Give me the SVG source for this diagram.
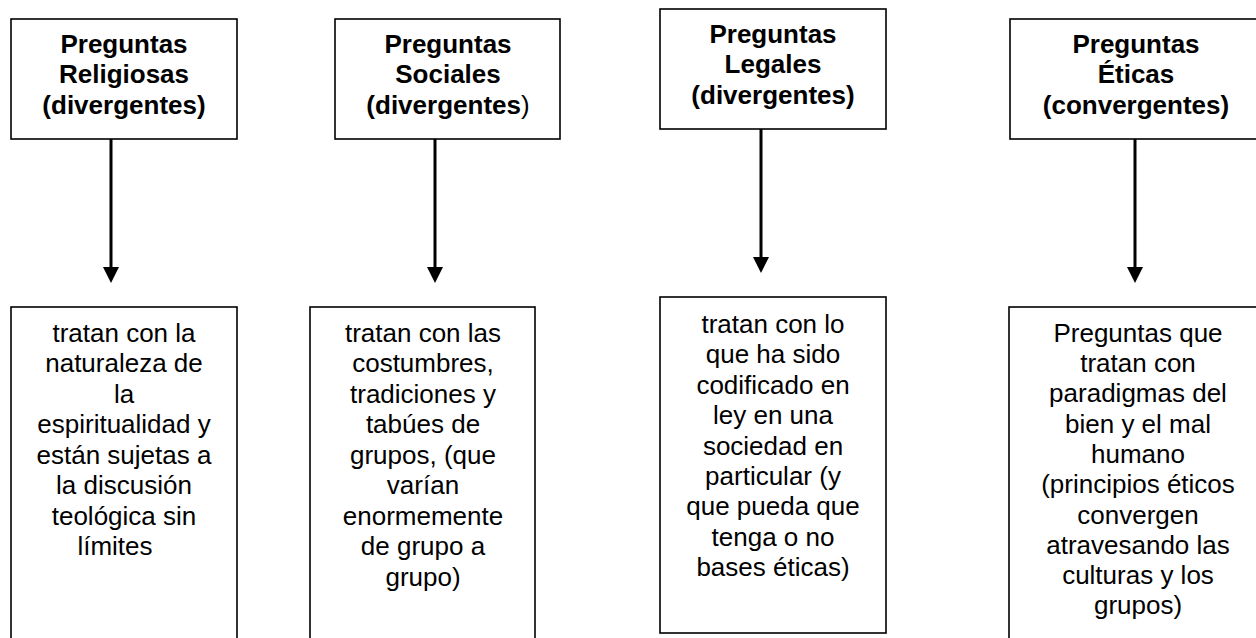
<svg xmlns="http://www.w3.org/2000/svg" width="1256" height="638" viewBox="0 0 1256 638">
<style>
  .box { fill: #ffffff; stroke: #000000; stroke-width: 1.6; }
  .title { font-family: "Liberation Sans", Arial, sans-serif; font-size: 26px; font-weight: bold; fill: #000000; text-anchor: middle; }
  .body { font-family: "Liberation Sans", Arial, sans-serif; font-size: 26px; fill: #000000; text-anchor: middle; }
  .conn { stroke: #000000; stroke-width: 3; fill: none; }
  .reg { font-weight: normal; }
</style>
<defs>
  <marker id="arrow" markerUnits="userSpaceOnUse" markerWidth="16" markerHeight="16" viewBox="0 0 16 16" refX="0" refY="8" orient="auto">
    <path d="M0,0 L16,8 L0,16 Z" fill="#000000"/>
  </marker>
</defs>
<rect width="1256" height="638" fill="#ffffff"/>

<g id="connectors">
  <line class="conn" x1="111" y1="139" x2="111" y2="267" marker-end="url(#arrow)"/>
  <line class="conn" x1="435" y1="139" x2="435" y2="267" marker-end="url(#arrow)"/>
  <line class="conn" x1="761" y1="129" x2="761" y2="257" marker-end="url(#arrow)"/>
  <line class="conn" x1="1135" y1="139" x2="1135" y2="267" marker-end="url(#arrow)"/>
</g>

<g id="religiosas">
  <rect class="box" x="11" y="19" width="226" height="120"/>
  <text class="title" x="124" y="52.7">Preguntas</text>
  <text class="title" x="124" y="83.4">Religiosas</text>
  <text class="title" x="124" y="114.2">(divergentes)</text>
</g>

<g id="sociales">
  <rect class="box" x="335" y="19" width="225" height="120"/>
  <text class="title" x="448" y="52.7">Preguntas</text>
  <text class="title" x="448" y="83.4">Sociales</text>
  <text class="title" x="448" y="114.2">(divergentes<tspan class="reg">)</tspan></text>
</g>

<g id="legales">
  <rect class="box" x="660" y="9" width="226" height="120"/>
  <text class="title" x="773" y="42.7">Preguntas</text>
  <text class="title" x="773" y="73.4">Legales</text>
  <text class="title" x="773" y="104.2">(divergentes)</text>
</g>

<g id="eticas">
  <rect class="box" x="1010" y="19" width="250" height="120"/>
  <text class="title" x="1136" y="52.7">Preguntas</text>
  <text class="title" x="1136" y="83.4">Éticas</text>
  <text class="title" x="1136" y="114.2">(convergentes)</text>
</g>

<g id="religiosas-desc">
  <rect class="box" x="11" y="307" width="226" height="340"/>
  <text class="body" x="124" y="341.7">tratan con la</text>
  <text class="body" x="124" y="372.2">naturaleza de</text>
  <text class="body" x="124" y="402.7">la</text>
  <text class="body" x="124" y="433.2">espiritualidad y</text>
  <text class="body" x="124" y="463.7">están sujetas a</text>
  <text class="body" x="124" y="494.2">la discusión</text>
  <text class="body" x="124" y="524.7">teológica sin</text>
  <text class="body" x="115" y="555.2">límites</text>
</g>

<g id="sociales-desc">
  <rect class="box" x="310" y="307" width="225" height="340"/>
  <text class="body" x="423" y="341.7">tratan con las</text>
  <text class="body" x="423" y="372.2">costumbres,</text>
  <text class="body" x="423" y="402.7">tradiciones y</text>
  <text class="body" x="423" y="433.2">tabúes de</text>
  <text class="body" x="423" y="463.7">grupos, (que</text>
  <text class="body" x="423" y="494.2">varían</text>
  <text class="body" x="423" y="524.7">enormemente</text>
  <text class="body" x="423" y="555.2">de grupo a</text>
  <text class="body" x="423" y="585.7">grupo)</text>
</g>

<g id="legales-desc">
  <rect class="box" x="660" y="297" width="226" height="336"/>
  <text class="body" x="773" y="333">tratan con lo</text>
  <text class="body" x="773" y="363.4">que ha sido</text>
  <text class="body" x="773" y="393.8">codificado en</text>
  <text class="body" x="773" y="424.2">ley en una</text>
  <text class="body" x="773" y="454.6">sociedad en</text>
  <text class="body" x="773" y="485">particular (y</text>
  <text class="body" x="773" y="515.4">que pueda que</text>
  <text class="body" x="773" y="545.8">tenga o no</text>
  <text class="body" x="773" y="576.2">bases éticas)</text>
</g>

<g id="eticas-desc">
  <rect class="box" x="1009" y="307" width="260" height="340"/>
  <text class="body" x="1138" y="341.7">Preguntas que</text>
  <text class="body" x="1138" y="372">tratan con</text>
  <text class="body" x="1138" y="402.3">paradigmas del</text>
  <text class="body" x="1138" y="432.6">bien y el mal</text>
  <text class="body" x="1138" y="462.9">humano</text>
  <text class="body" x="1138" y="493.2">(principios éticos</text>
  <text class="body" x="1138" y="523.5">convergen</text>
  <text class="body" x="1138" y="553.8">atravesando las</text>
  <text class="body" x="1138" y="584.1">culturas y los</text>
  <text class="body" x="1138" y="614.4">grupos)</text>
</g>
</svg>
